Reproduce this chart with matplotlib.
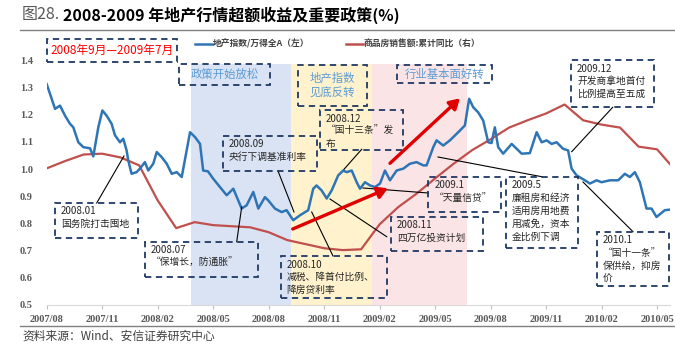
import matplotlib
matplotlib.use("Agg")
import matplotlib.pyplot as plt
from matplotlib.patches import Rectangle, FancyArrowPatch
from matplotlib.lines import Line2D

plt.rcParams['font.family'] = ['Noto Sans CJK SC', 'DejaVu Sans']

# ---------------- data ----------------
# x positions: months since 2007/08
x_ticklabels = ["2007/08", "2007/11", "2008/02", "2008/05", "2008/08", "2008/11",
                "2009/02", "2009/05", "2009/08", "2009/11", "2010/02", "2010/05"]

# 地产指数/万得全A (left axis)
blue_x = [0, 0.18, 0.45, 0.72, 0.99, 1.26, 1.44, 1.71, 1.98, 2.34, 2.52, 2.79, 3.01, 3.24,
          3.51, 3.69, 3.96, 4.14, 4.32, 4.41, 4.59, 4.86, 5.04, 5.31, 5.49, 5.76, 5.95,
          6.22, 6.49, 6.76, 7.03, 7.30, 7.75, 8.02, 8.29, 8.46, 8.72, 9.0, 9.37, 9.73,
          10.09, 10.54, 10.81, 11.17, 11.44, 11.80, 11.98, 12.34, 12.70, 12.97, 13.33,
          13.69, 14.14, 14.41, 14.59, 14.86, 15.14, 15.41, 15.76, 16.03, 16.22, 16.49,
          16.76, 16.94, 17.21, 17.48, 17.75, 18.02, 18.29, 18.56, 18.92, 19.28, 19.64,
          20.0, 20.36, 20.54, 20.9, 21.08, 21.44, 21.8, 22.34, 22.61, 22.84, 23.06, 23.33,
          23.6, 23.87, 24.05, 24.23, 24.41, 24.68, 25.14, 25.41, 25.68, 26.12, 26.49,
          26.76, 27.03, 27.3, 27.57, 27.92, 28.19, 28.38, 28.65, 29.1, 29.37, 29.73, 30.0,
          30.45, 30.9, 31.26, 31.53, 31.8, 32.07, 32.43, 32.7, 32.97, 33.42, 33.69]
blue_y = [1.313, 1.277, 1.222, 1.234, 1.197, 1.167, 1.154, 1.099, 1.081, 1.077, 1.047,
          1.154, 1.216, 1.197, 1.167, 1.125, 1.099, 1.112, 1.069, 1.032, 0.983, 0.989,
          1.002, 1.026, 0.995, 1.020, 1.063, 1.044, 1.020, 0.983, 0.989, 0.971, 1.136,
          1.118, 1.093, 0.995, 0.992, 0.965, 0.934, 0.904, 0.928, 0.855, 0.867, 0.916,
          0.855, 0.897, 0.885, 0.855, 0.842, 0.849, 0.812, 0.830, 0.849, 0.928, 0.940,
          0.922, 0.892, 0.922, 0.977, 0.995, 0.989, 0.995, 0.952, 0.928, 0.952, 0.940,
          0.934, 0.947, 0.995, 0.959, 0.995, 1.002, 1.020, 1.026, 1.014, 1.014, 1.081,
          1.106, 1.087, 1.106, 1.142, 1.161, 1.259, 1.228, 1.209, 1.179, 1.099, 1.096,
          1.154, 1.081, 1.057, 1.093, 1.075, 1.057, 1.059, 1.136, 1.099, 1.106, 1.093,
          1.099, 1.075, 1.069, 1.002, 0.977, 0.959, 0.947, 0.959, 0.952, 0.959, 0.959,
          0.983, 0.971, 0.989, 0.952, 0.855, 0.855, 0.824, 0.849, 0.851]

# 商品房销售额:累计同比 (right axis, unlabeled scale)
red_x = list(range(35))
red_y = [1.003, 1.03, 1.054, 1.057, 1.043, 1.014, 0.885, 0.783, 0.805, 0.794, 0.79,
         0.786, 0.768, 0.739, 0.724, 0.709, 0.702, 0.705, 0.797, 0.86, 0.91, 0.966,
         1.02, 1.07, 1.11, 1.153, 1.18, 1.205, 1.238, 1.18, 1.164, 1.153, 1.083, 1.073,
         0.995]

# shaded phases (months since 2007/08)
phase_bounds = [7.8, 13.2, 17.57, 22.7]
phase_colors = ["#DAE3F3", "#FFF2CC", "#FBE4E5"]

W, H = 675, 352
fig = plt.figure(figsize=(W / 100, H / 100), dpi=100)

def fx(x):
    return x / W

def fy(y):
    return 1 - y / H

ax_l, ax_r = 46.7, 670
ax_t, ax_b = 60.5, 305
ax = fig.add_axes([fx(ax_l), fy(ax_b), (ax_r - ax_l) / W, (ax_b - ax_t) / H])
ax.set_xlim(0, 33.7)
ax.set_ylim(0.5, 1.4)

for i, c in enumerate(phase_colors):
    ax.axvspan(phase_bounds[i], phase_bounds[i + 1], ymin=0, ymax=(1.387 - 0.5) / 0.9,
               color=c, lw=0, zorder=0)

ax2 = ax.twinx()
ax2.set_ylim(0.5, 1.4)
ax2.plot(red_x, red_y, color="#C0504D", lw=1.6, zorder=2, clip_on=True)
ax2.set_yticks([])
for s in ax2.spines.values():
    s.set_visible(False)

ax.plot(blue_x, blue_y, color="#2E75B6", lw=1.8, zorder=3)
ax.set_zorder(ax2.get_zorder() + 1)
ax.patch.set_visible(False)
# redraw shading underneath red line: put shading on ax2 instead
for p in list(ax.patches):
    p.remove()
for i, c in enumerate(phase_colors):
    ax2.axvspan(phase_bounds[i], phase_bounds[i + 1], ymin=0, ymax=(1.387 - 0.5) / 0.9,
                color=c, lw=0, zorder=0)

ax.set_xticks(range(0, 34, 3))
ax.set_xticklabels(x_ticklabels)
ax.set_yticks([0.5, 0.6, 0.7, 0.8, 0.9, 1.0, 1.1, 1.2, 1.3, 1.4])
ax.set_yticklabels([f"{v:.1f}" for v in ax.get_yticks()])
tick_font = dict(family="Liberation Serif", weight="bold", size=7.5)
for lab in ax.get_xticklabels() + ax.get_yticklabels():
    lab.set_fontfamily("Liberation Serif")
    lab.set_fontweight("bold")
    lab.set_fontsize(7.5)
    lab.set_color("#595959")
ax.tick_params(axis="y", length=0, pad=10)
ax.tick_params(axis="x", length=3, color="#BFBFBF", pad=4)
for k in ["left", "right", "top"]:
    ax.spines[k].set_visible(False)
ax.spines["bottom"].set_color("#D9D9D9")

# ---------------- title & source ----------------
fig.text(fx(22), fy(15), "图28.", fontsize=11.5, color="#595959", va="center", ha="left")
fig.text(fx(63), fy(15), "2008-2009 年地产行情超额收益及重要政策(%)", fontsize=11.5,
         color="black", weight="bold", va="center", ha="left")
fig.add_artist(Line2D([fx(20), fx(675)], [fy(29.5), fy(29.5)], color="#808080", lw=1.0))
fig.add_artist(Line2D([fx(20), fx(675)], [fy(326), fy(326)], color="#808080", lw=1.0))
fig.text(fx(22), fy(336), "资料来源：Wind、安信证券研究中心", fontsize=8.5, color="#404040",
         va="center", ha="left", style="italic")

# ---------------- legend ----------------
fig.add_artist(Line2D([fx(195), fx(212)], [fy(43.5), fy(43.5)], color="#2E75B6", lw=1.8))
fig.text(fx(213), fy(43.5), "地产指数/万得全A（左）", fontsize=6.3, color="#404040",
         weight="bold", va="center", ha="left")
fig.add_artist(Line2D([fx(346), fx(363)], [fy(43.5), fy(43.5)], color="#C0504D", lw=1.8))
fig.text(fx(364), fy(43.5), "商品房销售额:累计同比（右）", fontsize=6.3, color="#404040",
         weight="bold", va="center", ha="left")

# ---------------- boxes ----------------
box_color = "#1F3864"

def box(x0, y0, x1, y1):
    r = Rectangle((fx(x0), fy(y1)), fx(x1 - x0), (y1 - y0) / H, transform=fig.transFigure,
                  fill=False, edgecolor=box_color, lw=1.3, linestyle=(0, (3.5, 2.5)), zorder=10)
    fig.add_artist(r)

def note(x0, y0, x1, y1, text, **kw):
    box(x0, y0, x1, y1)
    fig.text(fx(x0 + 6), fy(y0 + 3.5), text, va="top", ha="left", fontsize=7,
             color="#262626", linespacing=1.35, zorder=11, **kw)

def header(x0, y0, x1, y1, text, size=8.2):
    box(x0, y0, x1, y1)
    fig.text(fx((x0 + x1) / 2), fy((y0 + y1) / 2), text, va="center", ha="center",
             fontsize=size, color="#5B9BD5", linespacing=1.5, zorder=11)

box(47, 39, 177, 62)
fig.text(fx(112), fy(50.5), "2008年9月—2009年7月", color="#FF0000", fontsize=8.5,
         va="center", ha="center", zorder=11)

header(179, 64, 270, 85, "政策开始放松")
header(298, 65, 367, 106, "地产指数\n见底反转")
header(397, 65, 491.7, 83, "行业基本面好转")

note(320, 110, 403, 150, "2008.12\n“国十三条”发\n布")
note(223, 136, 317, 170.7, "2008.09\n央行下调基准利率")
note(55, 203, 138, 237.7, "2008.01\n国务院打击囤地")
note(145, 241.7, 257.7, 276.7, "2008.07\n“保增长，防通胀”")
note(280.7, 256, 386.7, 298.3, "2008.10\n减税、降首付比例、\n降房贷利率")
note(390.7, 216.7, 482.7, 250.7, "2008.11\n四万亿投资计划")
note(428.3, 176.7, 500.7, 211.7, "2009.1\n“天量信贷”")
note(506, 176.7, 578.3, 247.7, "2009.5\n廉租房和经济\n适用房用地费\n用减免，资本\n金比例下调")
note(571, 60, 654.3, 107.3, "2009.12\n开发商拿地首付\n比例提高至五成")
note(596.7, 231.7, 669.3, 286, "2010.1\n“国十一条”\n保供给，抑房\n价")

# connector lines
connectors = [
    ((96.7, 203), (124, 156)),
    ((236.7, 241.7), (241.7, 207)),
    ((278, 171), (294, 212)),
    ((333, 256), (311.7, 212)),
    ((386.7, 236.7), (330, 199)),
    ((361.7, 149.3), (344, 169.3)),
    ((363, 188), (428.3, 193)),
    ((438, 157), (541.7, 176.7)),
    ((612.7, 107.3), (571.7, 151.7)),
    ((583, 182), (633, 231.7)),
]
for (a, b) in connectors:
    fig.add_artist(Line2D([fx(a[0]), fx(b[0])], [fy(a[1]), fy(b[1])], color="black",
                          lw=0.8, zorder=9))

# red arrows
for (a, b) in [((292.7, 229), (388, 188.3)), ((390, 163.3), (460, 98.3))]:
    arr = FancyArrowPatch((fx(a[0]), fy(a[1])), (fx(b[0]), fy(b[1])),
                          transform=fig.transFigure, arrowstyle="-|>,head_length=6,head_width=3.5",
                          color="#E00000", lw=2.4, zorder=9, shrinkA=0, shrinkB=0)
    fig.add_artist(arr)

fig.savefig("out.png", dpi=100)
